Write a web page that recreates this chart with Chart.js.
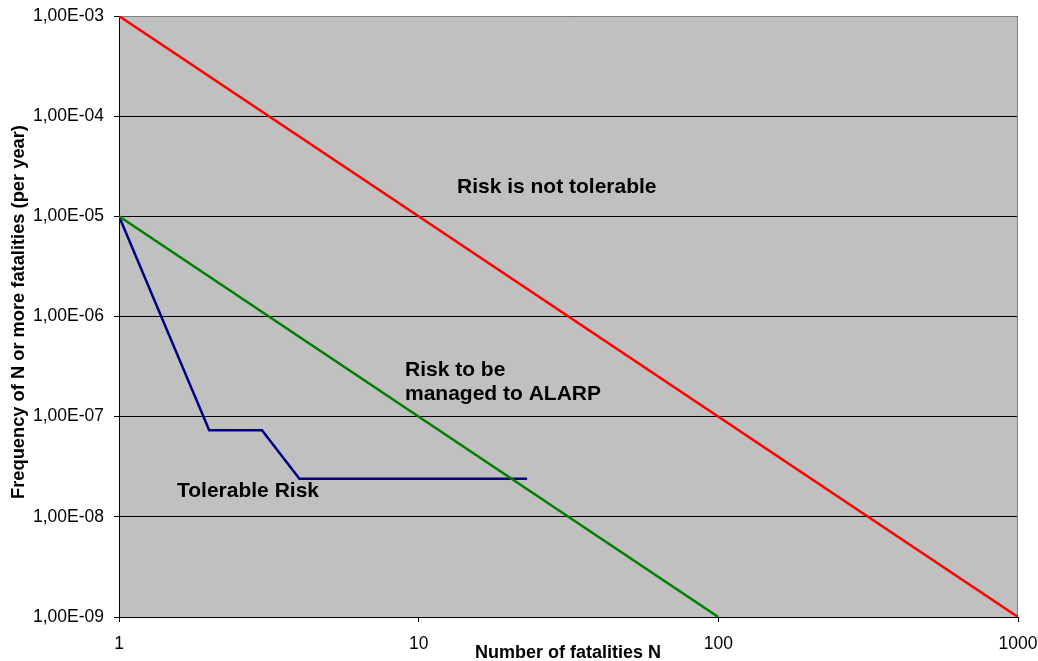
<!DOCTYPE html>
<html>

<head>
  <title>FN Curve</title>
  <script src="https://cdn.jsdelivr.net/npm/chart.js"></script>
  <style>
    body { margin: 0; background: #fff; }
  </style>
</head>

<body>
  <canvas id="fnChart" width="1038" height="661"></canvas>
  <script>
    // criterion lines and the assessed curve (N, frequency per year)
    const nUpper = [1, 1000];
    const freqUpper = [1e-3, 1e-9];
    const nLower = [1, 100];
    const freqLower = [1e-5, 1e-9];
    const nCurve = [1, 2, 3, 4, 23];
    const freqCurve = [1e-5, 7.3e-8, 7.3e-8, 2.4e-8, 2.4e-8];

    const xTicks = [1, 10, 100, 1000];
    const yTicks = [1e-9, 1e-8, 1e-7, 1e-6, 1e-5, 1e-4, 1e-3];

    const toPoints = (xs, ys) => xs.map((x, i) => ({ x: x, y: ys[i] }));

    function sciLabel(v) {
      const parts = Number(v).toExponential(2).split('e');
      const ex = parseInt(parts[1], 10);
      return parts[0].replace('.', ',') + 'E' + (ex < 0 ? '-' : '+') + String(Math.abs(ex)).padStart(2, '0');
    }

    // grey plot area, grey top/right frame, region labels and axis titles
    const decor = {
      id: 'decor',
      beforeDraw(chart) {
        const a = chart.chartArea;
        const c = chart.ctx;
        c.save();
        c.fillStyle = '#C0C0C0';
        c.fillRect(a.left, a.top, a.right - a.left, a.bottom - a.top);
        c.restore();
      },
      beforeDatasetsDraw(chart) {
        const a = chart.chartArea;
        const c = chart.ctx;
        c.save();
        c.strokeStyle = '#808080';
        c.lineWidth = 1;
        c.beginPath();
        c.moveTo(a.left, a.top + 0.5);
        c.lineTo(a.right - 0.5, a.top + 0.5);
        c.lineTo(a.right - 0.5, a.bottom);
        c.stroke();
        c.restore();
      },
      afterDraw(chart) {
        const c = chart.ctx;
        c.save();
        c.fillStyle = '#000';
        c.font = 'bold 21px "Liberation Sans", Arial, sans-serif';
        c.textBaseline = 'alphabetic';
        c.textAlign = 'left';
        c.fillText('Risk is not tolerable', 457, 193);
        c.fillText('Risk to be', 405, 376);
        c.fillText('managed to ALARP', 405, 400);
        c.fillText('Tolerable Risk', 177, 497);

        c.font = 'bold 18px "Liberation Sans", Arial, sans-serif';
        c.textAlign = 'center';
        c.fillText('Number of fatalities N', 568, 658);

        c.translate(24, 312);
        c.rotate(-Math.PI / 2);
        c.font = 'bold 18.3px "Liberation Sans", Arial, sans-serif';
        c.fillText('Frequency of N or more fatalities (per year)', 0, 0);
        c.restore();
      }
    };

    const ctx = document.getElementById('fnChart').getContext('2d');
    const chart = new Chart(ctx, {
      type: 'scatter',
      data: {
        datasets: [{
          label: 'Not tolerable limit',
          data: toPoints(nUpper, freqUpper),
          borderColor: '#FF0000',
          borderWidth: 2.5
        }, {
          label: 'Tolerable limit',
          data: toPoints(nLower, freqLower),
          borderColor: '#008000',
          borderWidth: 2.5
        }, {
          label: 'FN curve',
          data: toPoints(nCurve, freqCurve),
          borderColor: '#000080',
          borderWidth: 2.5
        }]
      },
      options: {
        responsive: false,
        animation: false,
        showLine: true,
        elements: { point: { radius: 0, hoverRadius: 0 }, line: { tension: 0 } },
        layout: { padding: { left: 0, right: 20, top: 16, bottom: 0 } },
        plugins: { legend: { display: false }, tooltip: { enabled: false } },
        scales: {
          x: {
            type: 'logarithmic',
            min: 1,
            max: 1000,
            afterBuildTicks: (s) => { s.ticks = xTicks.map(v => ({ value: v })); },
            afterFit: (s) => { s.height = 44; s.paddingLeft = 0; s.paddingRight = 0; },
            border: { color: '#000', width: 1 },
            grid: { drawOnChartArea: false, drawTicks: true, tickLength: 5, tickColor: '#000' },
            ticks: {
              color: '#000',
              padding: 12,
              maxRotation: 0,
              autoSkip: false,
              font: { family: '"Liberation Sans", Arial, sans-serif', size: 17.5 },
              callback: (v) => String(v)
            }
          },
          y: {
            type: 'logarithmic',
            min: 1e-9,
            max: 1e-3,
            afterBuildTicks: (s) => { s.ticks = yTicks.map(v => ({ value: v })); },
            afterFit: (s) => { s.width = 119; s.paddingTop = 0; s.paddingBottom = 0; },
            border: { color: '#000', width: 1 },
            grid: { color: '#000', lineWidth: 1, tickLength: 5, tickColor: '#000' },
            ticks: {
              color: '#000',
              padding: 10,
              autoSkip: false,
              font: { family: '"Liberation Sans", Arial, sans-serif', size: 17.5 },
              callback: (v) => sciLabel(v)
            }
          }
        }
      },
      plugins: [decor]
    });
  </script>
</body>

</html>
